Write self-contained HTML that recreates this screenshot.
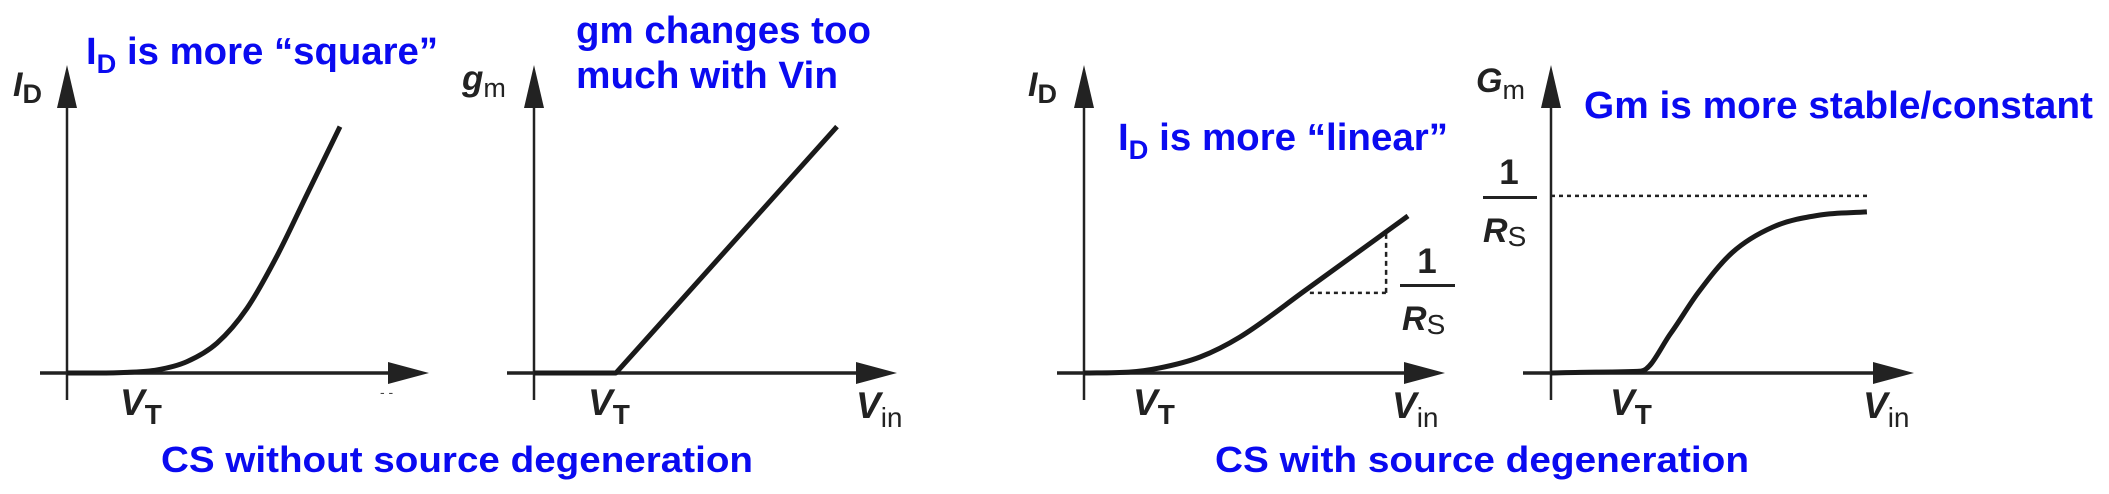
<!DOCTYPE html>
<html><head><meta charset="utf-8"><style>
html,body{margin:0;padding:0;background:#fff;}
svg{display:block;}
.blue{fill:#0a0af0;font-family:"Liberation Sans",Arial,sans-serif;font-weight:bold;}
.lab{fill:#222;font-family:"Liberation Sans",Arial,sans-serif;font-weight:bold;}
</style></head><body>
<svg id="chart" width="2109" height="494" viewBox="0 0 2109 494" xmlns="http://www.w3.org/2000/svg">
<g id="plots"></g>
<text class="blue" x="86" y="64" font-size="38" textLength="352" lengthAdjust="spacingAndGlyphs">I<tspan font-size="27" dy="9">D</tspan><tspan dy="-9"> is more “square”</tspan></text>
<text class="blue" x="576" y="43" font-size="38" textLength="295" lengthAdjust="spacingAndGlyphs">gm changes too</text>
<text class="blue" x="576" y="88" font-size="38" textLength="262" lengthAdjust="spacingAndGlyphs">much with Vin</text>
<text class="blue" x="1118" y="150" font-size="38" textLength="330" lengthAdjust="spacingAndGlyphs">I<tspan font-size="27" dy="9">D</tspan><tspan dy="-9"> is more “linear”</tspan></text>
<text class="blue" x="1584" y="118" font-size="38" textLength="509" lengthAdjust="spacingAndGlyphs">Gm is more stable/constant</text>
<text class="blue" x="161" y="472" font-size="36" textLength="592" lengthAdjust="spacingAndGlyphs">CS without source degeneration</text>
<text class="blue" x="1215" y="472" font-size="36" textLength="534" lengthAdjust="spacingAndGlyphs">CS with source degeneration</text>
<text class="lab" x="13" y="96" font-size="34"><tspan font-style="italic">I</tspan><tspan font-size="27" dy="7">D</tspan></text>
<text class="lab" x="462" y="90" font-size="35"><tspan font-style="italic">g</tspan><tspan font-size="27" dy="7" font-weight="normal">m</tspan></text>
<text class="lab" x="1028" y="96" font-size="34"><tspan font-style="italic">I</tspan><tspan font-size="27" dy="7">D</tspan></text>
<text class="lab" x="1476" y="92" font-size="34"><tspan font-style="italic">G</tspan><tspan font-size="27" dy="7" font-weight="normal">m</tspan></text>
<text class="lab" x="120" y="415" font-size="37"><tspan font-style="italic">V</tspan><tspan font-size="28" dy="9">T</tspan></text>
<text class="lab" x="588" y="415" font-size="37"><tspan font-style="italic">V</tspan><tspan font-size="28" dy="9">T</tspan></text>
<text class="lab" x="856" y="418" font-size="37"><tspan font-style="italic">V</tspan><tspan font-size="28" dy="9" font-weight="normal">in</tspan></text>
<text class="lab" x="1133" y="415" font-size="37"><tspan font-style="italic">V</tspan><tspan font-size="28" dy="9">T</tspan></text>
<text class="lab" x="1392" y="418" font-size="37"><tspan font-style="italic">V</tspan><tspan font-size="28" dy="9" font-weight="normal">in</tspan></text>
<text class="lab" x="1610" y="415" font-size="37"><tspan font-style="italic">V</tspan><tspan font-size="28" dy="9">T</tspan></text>
<text class="lab" x="1863" y="418" font-size="37"><tspan font-style="italic">V</tspan><tspan font-size="28" dy="9" font-weight="normal">in</tspan></text>
<g>
<text class="lab" x="1427" y="273" font-size="35" text-anchor="middle">1</text>
<rect x="1400" y="284" width="55" height="3" fill="#222"/>
<text class="lab" x="1402" y="330" font-size="34"><tspan font-style="italic">R</tspan><tspan font-size="28" dy="4" font-weight="normal">S</tspan></text>
</g>
<g>
<text class="lab" x="1509" y="184" font-size="35" text-anchor="middle">1</text>
<rect x="1483" y="196" width="54" height="3" fill="#222"/>
<text class="lab" x="1483" y="242" font-size="34"><tspan font-style="italic">R</tspan><tspan font-size="28" dy="4" font-weight="normal">S</tspan></text>
</g>
</svg>
<script>
// data (normalized units)
const idSquareVin = [0, 1, 2, 3, 4, 5, 6, 7, 8, 9.1];
const idSquareVal = [0, 0, 0.02, 0.1, 0.37, 0.97, 2.1, 3.8, 5.8, 8.0];
const gmVin = [0, 2.73, 10.1];
const gmVal = [0, 0, 8.0];
const idLinearVin = [0, 1.5, 2.5, 3.87, 5.2, 7.4, 10.8];
const idLinearVal = [0, 0.03, 0.16, 0.52, 1.17, 2.7, 5.1];
const GmVin = [0, 1.5, 3.0, 4.0, 4.9, 6.03, 7.4, 8.97, 10.53];
const GmVal = [0, 0.03, 0.06, 1.3, 2.6, 3.9, 4.74, 5.13, 5.23];
const GmLimit = [5.75];
const slopeTri = [7.53, 10.07, 2.6, 4.55];

const SX = 30, SY = 30.8;
const NS = 'http://www.w3.org/2000/svg';
const plotsG = document.getElementById('plots');
function mk(tag, attrs){const e=document.createElementNS(NS,tag);for(const k in attrs)e.setAttribute(k,attrs[k]);plotsG.appendChild(e);return e;}
function xs(ox,v){return ox+v*SX;}
function ys(oy,v){return oy-v*SY;}

function axes(ox, oy, xl, xr, name){
  let a=mk('line',{x1:ox,y1:oy+27,x2:ox,y2:108,stroke:'#222','stroke-width':2.5});
  
  
  let ah=mk('polygon',{points:`${ox-10},108 ${ox+10},108 ${ox},65`,fill:'#222'});
  
  
  let b=mk('line',{x1:xl,y1:oy,x2:xr-40,y2:oy,stroke:'#222','stroke-width':3.5});
  
  
  let bh=mk('polygon',{points:`${xr-41},${oy-11} ${xr-41},${oy+11} ${xr},${oy}`,fill:'#222'});
  
  
}
function monoPath(px, py){
  const n=px.length, d=[], m=new Array(n);
  for(let i=0;i<n-1;i++) d.push((py[i+1]-py[i])/(px[i+1]-px[i]));
  m[0]=d[0]; m[n-1]=d[n-2];
  for(let i=1;i<n-1;i++){ m[i]=(d[i-1]*d[i]<=0)?0:(d[i-1]+d[i])/2; }
  for(let i=0;i<n-1;i++){
    if(d[i]===0){m[i]=0;m[i+1]=0;continue;}
    const a=m[i]/d[i], b=m[i+1]/d[i], s=a*a+b*b;
    if(s>9){const t=3/Math.sqrt(s);m[i]=t*a*d[i];m[i+1]=t*b*d[i];}
  }
  let p=`M${px[0]},${py[0]}`;
  for(let i=0;i<n-1;i++){
    const h=(px[i+1]-px[i])/3;
    p+=` C${px[i]+h},${py[i]+m[i]*h} ${px[i+1]-h},${py[i+1]-m[i+1]*h} ${px[i+1]},${py[i+1]}`;
  }
  return p;
}
function curve(ox,oy,vin,val,name,smooth){
  const px=vin.map(v=>xs(ox,v)), py=val.map(v=>ys(oy,v));
  const d = smooth ? monoPath(px,py) : 'M'+px.map((x,i)=>x+','+py[i]).join(' L');
  const p=mk('path',{d:d,fill:'none',stroke:'#1a1a1a','stroke-width':5,'stroke-linejoin':'round'});
  
  
}

axes(67,373,40,429,'plot1');
curve(67,373,idSquareVin,idSquareVal,'id-square-curve',true);
const vinStub=mk('text',{x:380,y:397,'font-size':14,fill:'#444','font-family':'Liberation Sans'});
vinStub.textContent='- -';



axes(534,373,507,897,'plot2');
curve(534,373,gmVin,gmVal,'gm-linear-line',false);

axes(1084,373,1057,1445,'plot3');
curve(1084,373,idLinearVin,idLinearVal,'id-linear-curve',true);
const th=mk('line',{x1:xs(1084,slopeTri[0]),y1:ys(373,slopeTri[2]),x2:xs(1084,slopeTri[1]),y2:ys(373,slopeTri[2]),stroke:'#222','stroke-width':2.5,'stroke-dasharray':'4 4'});


const tv=mk('line',{x1:xs(1084,slopeTri[1]),y1:ys(373,slopeTri[2]),x2:xs(1084,slopeTri[1]),y2:ys(373,slopeTri[3]),stroke:'#222','stroke-width':2.5,'stroke-dasharray':'5 4'});



axes(1551,373,1523,1914,'plot4');
curve(1551,373,GmVin,GmVal,'Gm-curve',true);
const lim=mk('line',{x1:1551,y1:ys(373,GmLimit[0]),x2:1867,y2:ys(373,GmLimit[0]),stroke:'#222','stroke-width':2.5,'stroke-dasharray':'4 4'});


</script>
</body></html>
